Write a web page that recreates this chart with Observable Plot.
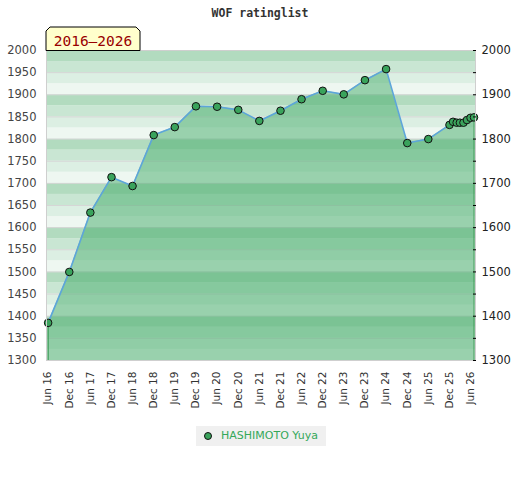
<!DOCTYPE html>
<html>
<head>
<meta charset="utf-8">
<script src="https://cdn.jsdelivr.net/npm/d3@7"></script>
<script src="https://cdn.jsdelivr.net/npm/@observablehq/plot@0.6"></script>
<style>
  html, body { margin: 0; padding: 0; background: #fff; }
  #wrap { position: relative; width: 520px; height: 480px; overflow: hidden; }
  #title { position: absolute; left: 0; width: 520px; top: 6px; text-align: center;
           font: bold 11.5px "DejaVu Sans Mono", monospace; color: #333; }
  #period { position: absolute; left: 0; top: 0; }
  #legend { position: absolute; left: 196px; top: 426px; width: 130px; height: 20px; background: #f0f0f0;
            font: 11px "DejaVu Sans", sans-serif; color: #35a85a; }
  #legend .dot { position: absolute; left: 8px; top: 6px; border-radius: 50%;
                 background: #3aa35c; border: 1px solid #111; box-sizing: border-box; width: 8px; height: 8px; }
  #legend .lab { position: absolute; left: 25px; top: 3px; white-space: nowrap; }
  #chart { position: absolute; left: 0; top: 0; }
</style>
</head>
<body>
<div id="wrap">
  <div id="chart"></div>
  <div id="title">WOF ratinglist</div>
  <svg id="period" width="520" height="60">
    <polygon points="46,50.5 46,31 50,27 136,27 140,31 140,50.5" fill="#ffffcc" stroke="#000" stroke-width="1"></polygon>
    <text x="93" y="46" text-anchor="middle" font-family="DejaVu Sans Mono, monospace" font-size="14.5" fill="#990000">2016–2026</text>
  </svg>
  <div id="legend"><div class="dot"></div><div class="lab">HASHIMOTO Yuya</div></div>
</div>
<script>
// ---- data ----
const player = "HASHIMOTO Yuya";
const dates = [
  "2016-06-01","2016-12-01","2017-06-01","2017-12-01","2018-06-01","2018-12-01",
  "2019-06-01","2019-12-01","2020-06-01","2020-12-01","2021-06-01","2021-12-01",
  "2022-06-01","2022-12-01","2023-06-01","2023-12-01","2024-06-01","2024-12-01",
  "2025-06-01","2025-12-01","2026-01-01","2026-02-01","2026-03-01","2026-04-01",
  "2026-05-01","2026-06-01","2026-07-01"
];
const ratings = [
  1385, 1500, 1634, 1714, 1694, 1809,
  1827, 1874, 1873, 1866, 1841, 1864,
  1890, 1909, 1901, 1933, 1958, 1791,
  1800, 1832, 1839, 1837, 1837, 1837,
  1843, 1848, 1849
];
const xTickDates = [
  "2016-06-01","2016-12-01","2017-06-01","2017-12-01","2018-06-01","2018-12-01",
  "2019-06-01","2019-12-01","2020-06-01","2020-12-01","2021-06-01","2021-12-01",
  "2022-06-01","2022-12-01","2023-06-01","2023-12-01","2024-06-01","2024-12-01",
  "2025-06-01","2025-12-01","2026-06-01"
];
const xDomain = ["2016-05-18", "2026-07-14"];
const yTicksLeft = [1300,1350,1400,1450,1500,1550,1600,1650,1700,1750,1800,1850,1900,1950,2000];
const yTicksRight = [1300,1400,1500,1600,1700,1800,1900,2000];
const stripeStep = 25;
const stripeColors = ["#eef7f1", "#dcefe3", "#c9e6d3", "#b2dbbf"]; // from bottom of each 100 block upward

// ---- build tables ----
const parse = d3.utcParse("%Y-%m-%d");
const data = dates.map((d, i) => ({date: parse(d), rating: ratings[i]}));
const yMin = yTicksLeft[0], yMax = yTicksLeft[yTicksLeft.length - 1];
const stripes = [];
for (let lo = yMin; lo < yMax; lo += stripeStep) {
  stripes.push({lo, hi: lo + stripeStep, color: stripeColors[((lo - yMin) / stripeStep) % 4]});
}
const ends = [data[0], data[data.length - 1]];
const fmt = d3.utcFormat("%b %y");
const yFmt = d3.format("d");

const chart = Plot.plot({
  width: 520,
  height: 480,
  marginTop: 50,
  marginBottom: 120,
  marginLeft: 46,
  marginRight: 45,
  style: {fontFamily: "DejaVu Sans, sans-serif", fontSize: "11px", background: "transparent", overflow: "visible"},
  x: {type: "utc", domain: xDomain.map(parse), label: null},
  y: {domain: [yMin, yMax], label: null},
  color: {type: "identity"},
  marks: [
    Plot.barY(stripes, {y1: "lo", y2: "hi", fill: "color"}),
    Plot.gridY(yTicksLeft, {stroke: "#d6d6d6", strokeOpacity: 1}),
    Plot.areaY(data, {x: "date", y1: yMin, y2: "rating", fill: "#44ab69", fillOpacity: 0.5}),
    Plot.ruleX(ends, {x: "date", y1: yMin, y2: "rating", stroke: "#3a9a55", strokeWidth: 1.2}),
    Plot.line(data, {x: "date", y: "rating", stroke: "#5da5da", strokeWidth: 1.6}),
    Plot.dot(data, {x: "date", y: "rating", r: 3.8, fill: "#3aa35c", stroke: "#111", strokeWidth: 1}),
    Plot.frame({stroke: "#cfcfcf"}),
    Plot.axisY(yTicksLeft, {anchor: "left", tickSize: 0, tickPadding: 10, tickFormat: yFmt, color: "#444", fontSize: 11.5, label: null}),
    Plot.axisY(yTicksRight, {anchor: "right", tickSize: 0, tickPadding: 6, tickFormat: yFmt, color: "#222", fontSize: 11.5, label: null}),
    Plot.axisY(yTicksLeft, {anchor: "right", tickSize: 3, dx: -3, tickFormat: () => "", stroke: "#000", label: null}),
    Plot.axisX(xTickDates.map(parse), {anchor: "bottom", tickSize: 0, tickPadding: 11, tickRotate: -90,
      tickFormat: fmt, color: "#333", fontSize: 10.5, label: null})
  ]
});
document.getElementById("chart").appendChild(chart);
</script>
</body>
</html>
